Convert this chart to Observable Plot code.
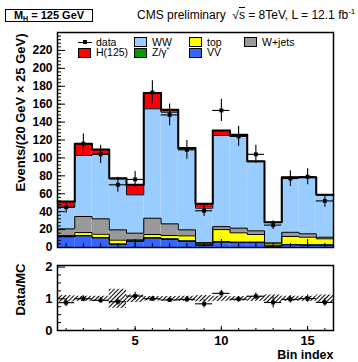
<!DOCTYPE html>
<html>
<head>
<meta charset="utf-8">
<script src="https://cdn.jsdelivr.net/npm/d3@7"></script>
<script src="https://cdn.jsdelivr.net/npm/@observablehq/plot@0.6"></script>
<style>
html,body{margin:0;padding:0;background:#fff;}
#wrap{position:relative;width:358px;height:362px;overflow:hidden;font-family:"Liberation Sans",Arial,Helvetica,sans-serif;color:#000;}
#wrap svg{position:absolute;left:0;}
.mh{position:absolute;left:5px;top:9px;width:86px;height:11px;border:1px solid #000;font-weight:bold;font-size:11px;line-height:11px;text-align:center;white-space:nowrap;}
.mh sub{font-size:7px;vertical-align:-2px;line-height:0;}
.cms{position:absolute;left:137px;top:8px;font-size:12px;line-height:14px;white-space:nowrap;}
.cms sup{font-size:8px;vertical-align:5px;line-height:0;}
.ov{text-decoration:overline;}
.leg{position:absolute;font-size:10.5px;line-height:9px;height:9px;white-space:nowrap;}
.leg sup{font-size:7px;vertical-align:4px;line-height:0;}
.box{position:absolute;width:11px;height:8px;border:1px solid #000;box-sizing:content-box;}
</style>
</head>
<body>
<div id="wrap">
  <div class="mh">M<sub>H</sub> = 125 GeV</div>
  <div class="cms">CMS preliminary &nbsp;√<span class="ov">s</span> = 8TeV, L = 12.1 fb<sup>-1</sup></div>
</div>
<script>
// ---- data ----
const bins = [1, 2, 3, 4, 5, 6, 7, 8, 9, 10, 11, 12, 13, 14, 15, 16];
const compNames = ["VV", "Z/γ*", "top", "W+jets", "WW", "H(125)"];
const compColors = ["#3366ff", "#009900", "#ffff00", "#999999", "#99ccff", "#ff0000"];
const VV    = [12, 13, 10.8, 3.5, 7, 10.5, 9.2, 7, 2.5, 6, 5.5, 5.5, 1.5, 3, 2.7, 2.7];
const ZG    = [0.3, 0.4, 0.3, 0.5, 0.5, 0.5, 0.5, 0.4, 0.5, 0.5, 0.5, 0.5, 0.3, 0.3, 0.3, 0.3];
const TOP   = [1, 3.3, 3.7, 4.2, 1.1, 3.5, 3.7, 5.6, 1.2, 13.5, 10.4, 8.5, 2.2, 9, 8.5, 6.7];
const WJETS = [7.5, 17.9, 17.2, 11.5, 7.4, 18.2, 13, 6.7, 1.3, 3.3, 5.2, 4.1, 1.2, 4.7, 3.8, 1.8];
const WW    = [24.2, 68.1, 72.5, 56.8, 42.8, 122.1, 124.6, 90.3, 38.4, 101.7, 103.4, 77.2, 22.8, 61, 62.7, 47];
const HIGGS = [6.3, 13, 4.9, 0.7, 11.2, 17.8, 2.7, 1, 4.8, 5.6, 0.8, 0.5, 0.3, 0.5, 0.5, 0.3];
const DATA     = [45, 116, 104, 70, 76, 173, 148, 109, 41, 153, 124, 104, 25, 77, 79, 52];
const DATA_ERR = [6.7, 10.8, 10.2, 8.4, 8.7, 13.2, 12.2, 10.4, 6.4, 12.4, 11.1, 10.2, 5, 8.8, 8.9, 7.2];
const MC_UNC   = [0.1, 0.08, 0.08, 0.3, 0.12, 0.07, 0.07, 0.08, 0.1, 0.08, 0.07, 0.08, 0.12, 0.08, 0.08, 0.12];
const yTicksMain = [0, 20, 40, 60, 80, 100, 120, 140, 160, 180, 200, 220];
const yTicksMainAll = [0, 20, 40, 60, 80, 100, 120, 140, 160, 180, 200, 220, 240];
const yMinorMain = d3.range(0, 241, 4);
const xTickLabels = [5, 10, 15];
const ratioTicks = [0, 1, 2];
const ratioMinor = [0.25, 0.5, 0.75, 1.25, 1.5, 1.75];
const yLabel = "Events/(20 GeV × 25 GeV)";
const ratioLabel = "Data/MC";
const xLabel = "Bin index";

// ---- derived tables ----
const series = [VV, ZG, TOP, WJETS, WW, HIGGS];
const stackRows = [];
series.forEach((s, k) => s.forEach((v, i) => stackRows.push({bin: bins[i], comp: compNames[k], value: v})));
const cum = [];
let run = bins.map(() => 0);
series.forEach(s => { run = run.map((r, i) => r + s[i]); cum.push(run.slice()); });
const mcTotal = cum[cum.length - 1];
const stepRows = [];
cum.forEach((c, k) => {
  c.forEach((v, i) => stepRows.push({layer: k, x: bins[i] - 0.5, y: v}));
  stepRows.push({layer: k, x: bins[bins.length - 1] + 0.5, y: c[c.length - 1]});
});
const pts = bins.map((b, i) => ({
  bin: b, data: DATA[i], err: DATA_ERR[i], mc: mcTotal[i],
  ratio: DATA[i] / mcTotal[i], rerr: DATA_ERR[i] / mcTotal[i], unc: MC_UNC[i]
}));

const W = 358, ML = 57, MR = 25;
const FW = W - ML - MR;
const MAIN_H = 250, MAIN_T = 32, MAIN_B = 3, MAIN_FH = MAIN_H - MAIN_T - MAIN_B;
const R_H = 112, R_T = 15, R_B = 32, R_FH = R_H - R_T - R_B;
const style = {fontFamily: '"Liberation Sans",Arial,sans-serif', fontWeight: "bold", fontSize: "13px", background: "none", overflow: "visible"};

const main = Plot.plot({
  width: W, height: MAIN_H, marginTop: MAIN_T, marginBottom: MAIN_B, marginLeft: ML, marginRight: MR,
  x: {domain: [0.5, 16.5], axis: null},
  y: {domain: [0, 240], axis: null},
  color: {domain: compNames, range: compColors},
  style,
  marks: [
    Plot.rectY(stackRows, {x1: d => d.bin - 0.5, x2: d => d.bin + 0.5, y: "value", fill: "comp", order: compNames}),
    Plot.line(stepRows.filter(d => d.layer < 5), {x: "x", y: "y", z: "layer", curve: "step-after", stroke: "#000", strokeWidth: 1}),
    Plot.line(stepRows.filter(d => d.layer === 5), {x: "x", y: "y", curve: "step-after", stroke: "#000", strokeWidth: 2}),
    Plot.ruleY(pts, {y: "data", x1: d => d.bin - 0.5, x2: d => d.bin + 0.5, stroke: "#000", strokeWidth: 1.1}),
    Plot.ruleX(pts, {x: "bin", y1: d => d.data - d.err, y2: d => d.data + d.err, stroke: "#000", strokeWidth: 1.1}),
    Plot.dot(pts, {x: "bin", y: "data", symbol: "square", r: 2.2, fill: "#000", stroke: null}),
    Plot.tickY(yMinorMain, {y: d => d, insetRight: FW - 4, stroke: "#000"}),
    Plot.tickY(yTicksMainAll, {y: d => d, insetRight: FW - 8, stroke: "#000"}),
    Plot.tickX(bins, {x: d => d, insetTop: MAIN_FH - 4, stroke: "#000"}),
    Plot.tickX(xTickLabels, {x: d => d, insetTop: MAIN_FH - 8, stroke: "#000"}),
    Plot.axisY({ticks: yTicksMain, tickSize: 0, tickPadding: 5, label: null, fontSize: 12, tickFormat: d3.format("d")}),
    Plot.text([yLabel], {frameAnchor: "top-left", text: d => d, rotate: -90, textAnchor: "end", dx: -42, dy: 1, fontSize: 13}),
    Plot.frame({stroke: "#000", strokeWidth: 1.5})
  ]
});
main.style.top = "0px";

const ratio = Plot.plot({
  width: W, height: R_H, marginTop: R_T, marginBottom: R_B, marginLeft: ML, marginRight: MR,
  x: {domain: [0.5, 16.5], axis: null},
  y: {domain: [0, 2.05], axis: null},
  style,
  marks: [
    Plot.rect(pts, {x1: d => d.bin - 0.5, x2: d => d.bin + 0.5, y1: d => 1 - d.unc, y2: d => 1 + d.unc, fill: "url(#hatch)"}),
    Plot.ruleY(pts, {y: "ratio", x1: d => d.bin - 0.5, x2: d => d.bin + 0.5, stroke: "#000", strokeWidth: 1.1}),
    Plot.ruleX(pts, {x: "bin", y1: d => d.ratio - d.rerr, y2: d => d.ratio + d.rerr, stroke: "#000", strokeWidth: 1.1}),
    Plot.dot(pts, {x: "bin", y: "ratio", symbol: "square", r: 2.2, fill: "#000", stroke: null}),
    Plot.tickY(ratioMinor, {y: d => d, insetRight: FW - 4, stroke: "#000"}),
    Plot.tickY(ratioTicks, {y: d => d, insetRight: FW - 8, stroke: "#000"}),
    Plot.tickX(bins, {x: d => d, insetTop: R_FH - 2, stroke: "#000"}),
    Plot.tickX(xTickLabels, {x: d => d, insetTop: R_FH - 4, stroke: "#000"}),
    Plot.axisY({ticks: ratioTicks, tickSize: 0, tickPadding: 5, label: null, fontSize: 13, tickFormat: d3.format("d")}),
    Plot.axisX({ticks: xTickLabels, tickSize: 0, tickPadding: 5, label: null, fontSize: 13, tickFormat: d3.format("d")}),
    Plot.text([ratioLabel], {frameAnchor: "top-left", text: d => d, rotate: -90, textAnchor: "end", dx: -42, dy: -2, fontSize: 13}),
    Plot.text([xLabel], {frameAnchor: "bottom-right", text: d => d, textAnchor: "end", dy: 28, fontSize: 12.5}),
    Plot.frame({stroke: "#000", strokeWidth: 1.5})
  ]
});
ratio.style.top = "250px";
d3.select(ratio).insert("defs", ":first-child").html(
  '<pattern id="hatch" patternUnits="userSpaceOnUse" width="3" height="3" patternTransform="rotate(45)">' +
  '<line x1="0.5" y1="0" x2="0.5" y2="3" stroke="#000" stroke-width="1.1"/></pattern>'
);

const wrap = document.getElementById("wrap");
wrap.appendChild(main);
wrap.appendChild(ratio);

// legend
const legendItems = [
  {label: "data", type: "data", col: 0, row: 0},
  {label: "WW", color: compColors[4], col: 1, row: 0},
  {label: "top", color: compColors[2], col: 2, row: 0},
  {label: "W+jets", color: compColors[3], col: 3, row: 0},
  {label: "H(125)", color: compColors[5], col: 0, row: 1},
  {label: "Z/γ<sup>*</sup>", color: compColors[1], col: 1, row: 1},
  {label: "VV", color: compColors[0], col: 2, row: 1}
];
const colX = [78, 134, 189, 244];
const rowY = [42, 52.5];
legendItems.forEach(it => {
  const x = colX[it.col], y = rowY[it.row];
  if (it.type === "data") {
    const ln = document.createElement("div");
    ln.style.cssText = `position:absolute;left:${x}px;top:${y - 0.5}px;width:14px;height:1px;background:#000;`;
    const mk = document.createElement("div");
    mk.style.cssText = `position:absolute;left:${x + 5}px;top:${y - 2}px;width:4px;height:4px;background:#000;`;
    wrap.appendChild(ln); wrap.appendChild(mk);
  } else {
    const b = document.createElement("div");
    b.className = "box";
    b.style.left = x + "px"; b.style.top = (y - 5) + "px"; b.style.background = it.color;
    wrap.appendChild(b);
  }
  const t = document.createElement("div");
  t.className = "leg";
  t.style.left = (x + 18) + "px"; t.style.top = (y - 4.5) + "px";
  t.innerHTML = it.label;
  wrap.appendChild(t);
});
</script>
</body>
</html>
